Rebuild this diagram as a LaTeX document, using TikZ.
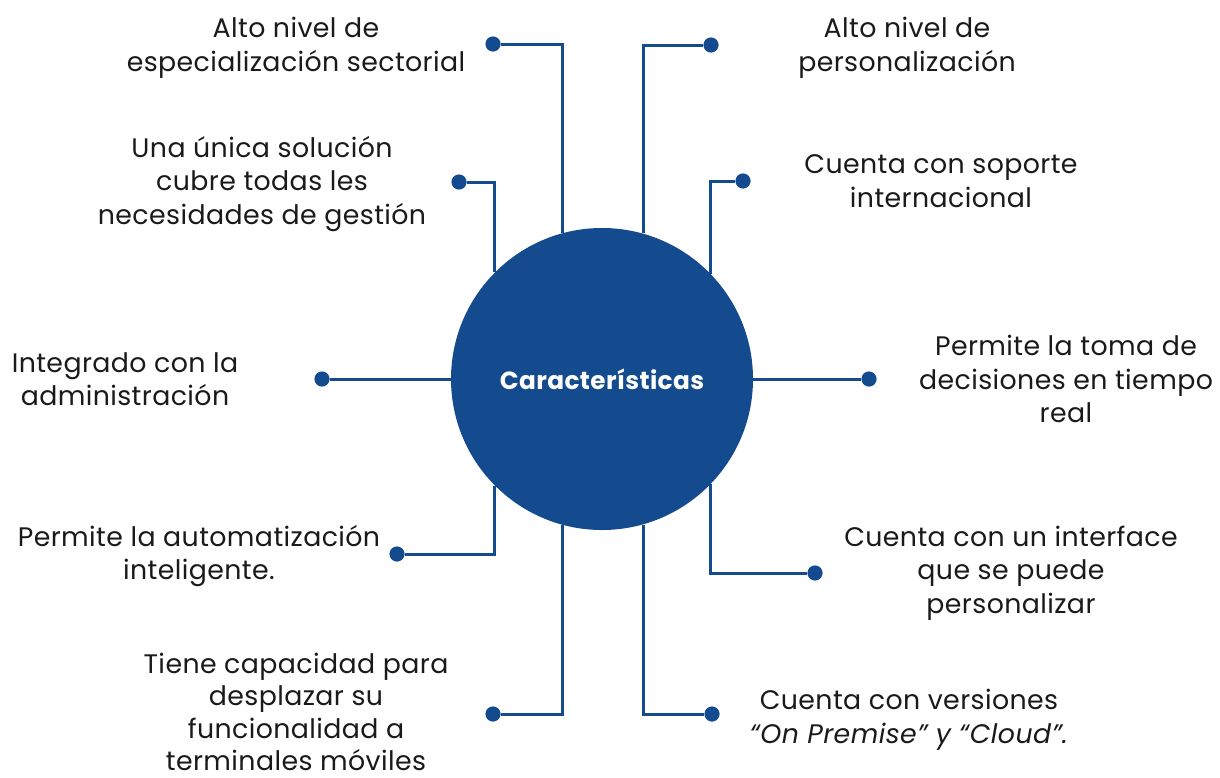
\documentclass[tikz,border=0pt]{standalone}
\usepackage{fontspec}
\setmainfont{Poppins}[LetterSpace=1.5]
\usepackage{tikz}
\usetikzlibrary{positioning, arrows.meta, shapes}
\usepackage{xcolor}
\definecolor{azul}{RGB}{20,75,142}
\definecolor{texto}{RGB}{26,26,26}

\begin{document}
\begin{tikzpicture}[x=0.5pt, y=-0.5pt,
    link/.style={draw=azul, line width=1.5pt},
    dot/.style={circle, fill=azul, inner sep=0pt, minimum size=7.6pt},
    feat/.style={align=center, text=texto, font=\fontsize{13.4}{16.8}\selectfont}]
    \useasboundingbox (0,0) rectangle (1220,777);

    % Center
    \node[circle, fill=azul, minimum size=151pt, inner sep=0pt, text=white,
          font=\fontsize{12.4}{15}\selectfont\bfseries] (centro) at (602,379) {Características};

    % Dots
    \node[dot] (d1) at (493,44) {};
    \node[dot] (d2) at (711,45) {};
    \node[dot] (d3) at (459,182) {};
    \node[dot] (d4) at (743,181) {};
    \node[dot] (d5) at (322,379) {};
    \node[dot] (d6) at (869,379) {};
    \node[dot] (d7) at (397,554) {};
    \node[dot] (d8) at (815,573) {};
    \node[dot] (d9) at (493,714) {};
    \node[dot] (d10) at (712,714) {};

    % Features
    \node[feat] (t1) at (296,48) {Alto nivel de\\especialización sectorial};
    \node[feat] (t2) at (907,48) {Alto nivel de\\personalización};
    \node[feat] (t3) at (262,184) {Una única solución\\cubre todas les\\necesidades de gestión};
    \node[feat] (t4) at (941,181) {Cuenta con soporte\\internacional};
    \node[feat] (t5) at (125,379) {Integrado con la\\administración};
    \node[feat] (t6) at (1066,379) {Permite la toma de\\decisiones en tiempo\\real};
    \node[feat] (t7) at (199,556) {Permite la automatización\\inteligente.};
    \node[feat] (t8) at (1011,573) {Cuenta con un interface\\que se puede\\personalizar};
    \node[feat, inner sep=0pt, font=\fontsize{13.4}{16.2}\selectfont] (t9) at (296,712) {Tiene capacidad para\\desplazar su\\funcionalidad a\\terminales móviles};
    \node[feat] (t10) at (909,720) {Cuenta con versiones\\\textit{“On Premise” y “Cloud”.}};

    % Connectors
    \draw[link] (d1) -| (centro.105.4);
    \draw[link] (d2) -| (centro.74.4);
    \draw[link] (d3) -| (centro.135.1);
    \draw[link] (d4) -| (centro.44.9);
    \draw[link] (d5) -- (centro);
    \draw[link] (d6) -- (centro);
    \draw[link] (d7) -| (centro.-135.1);
    \draw[link] (d8) -| (centro.-44.9);
    \draw[link] (d9) -| (centro.-105.4);
    \draw[link] (d10) -| (centro.-74.4);
\end{tikzpicture}
\end{document}
